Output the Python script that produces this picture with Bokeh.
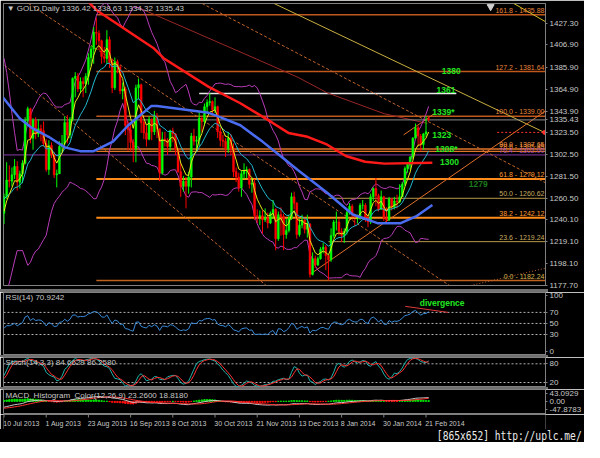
import numpy as np
import pandas as pd
from bokeh.plotting import figure
from bokeh.layouts import column
from bokeh.models import (Range1d, FixedTicker, NumeralTickFormatter, CustomJSTickFormatter,
                          Label, Div, ColumnDataSource)
from bokeh.core.properties import value
from bokeh.embed import file_html
from bokeh.resources import INLINE

FONT = "Liberation Sans"

# ---------------- data ----------------
# 20 daily bars before the visible window (needed to start the indicators)
pre_high = [1393, 1398, 1392, 1390, 1385, 1375, 1350, 1300, 1298, 1286, 1277, 1234, 1239, 1261, 1267, 1262, 1258, 1261, 1240, 1250]
pre_low = [1370, 1372, 1375, 1376, 1363, 1346, 1276, 1269, 1274, 1268, 1222, 1196, 1180, 1223, 1235, 1237, 1244, 1207, 1207, 1232]
pre_close = [1390, 1376, 1387, 1383, 1367, 1348, 1277, 1297, 1278, 1276, 1229, 1210, 1234, 1254, 1243, 1251, 1251, 1223, 1235, 1246]

# visible bars: 10 Jul 2013 .. 24 Feb 2014
opens = [1246, 1262, 1278, 1277, 1283, 1291, 1276, 1284, 1294, 1335, 1346, 1318, 1335, 1322, 1327, 1325,
         1313, 1288, 1311, 1302, 1283, 1284, 1310, 1313, 1333, 1321, 1336, 1375, 1377, 1365, 1372, 1370,
         1377, 1395, 1403, 1419, 1418, 1411, 1396, 1394, 1412, 1390, 1366, 1391, 1386, 1363, 1365, 1330,
         1326, 1314, 1308, 1366, 1369, 1333, 1323, 1317, 1336, 1324, 1338, 1327, 1285, 1317, 1316, 1310,
         1325, 1322, 1307, 1286, 1272, 1277, 1272, 1281, 1320, 1315, 1316, 1337, 1334, 1348, 1352, 1353,
         1345, 1348, 1324, 1316, 1315, 1308, 1318, 1308, 1286, 1281, 1271, 1284, 1287, 1288, 1274, 1275,
         1244, 1243, 1244, 1240, 1242, 1237, 1246, 1250, 1222, 1245, 1243, 1226, 1230, 1242, 1262, 1256,
         1226, 1235, 1240, 1231, 1236, 1188, 1203, 1197, 1203, 1212, 1214, 1206, 1202, 1225, 1238, 1238,
         1229, 1225, 1229, 1247, 1253, 1245, 1241, 1242, 1254, 1254, 1242, 1238, 1262, 1270, 1263, 1250,
         1262, 1242, 1240, 1260, 1252, 1258, 1257, 1262, 1274, 1289, 1293, 1300, 1318, 1328, 1320, 1312,
         1322, 1336.42]
highs = [1265, 1295, 1292, 1290, 1298, 1296, 1287, 1297, 1338, 1348, 1347, 1337, 1338, 1336, 1331, 1334,
         1317, 1316, 1314, 1305, 1288, 1315, 1321, 1339, 1340, 1338, 1376, 1381, 1380, 1376, 1376, 1380,
         1399, 1406, 1424, 1433, 1421, 1412, 1405, 1421, 1415, 1394, 1395, 1393, 1388, 1371, 1367, 1334,
         1333, 1317, 1369, 1375, 1370, 1335, 1330, 1339, 1337, 1344, 1342, 1327, 1324, 1324, 1318, 1326,
         1328, 1323, 1308, 1294, 1282, 1281, 1286, 1323, 1327, 1320, 1343, 1338, 1351, 1355, 1361, 1354,
         1357, 1349, 1328, 1321, 1318, 1324, 1322, 1313, 1290, 1285, 1287, 1294, 1291, 1289, 1280, 1279,
         1250, 1249, 1249, 1251, 1247, 1248, 1259, 1251, 1248, 1252, 1246, 1241, 1245, 1266, 1267, 1257,
         1241, 1245, 1242, 1245, 1237, 1209, 1206, 1205, 1214, 1218, 1216, 1206, 1232, 1240, 1248, 1241,
         1232, 1232, 1250, 1256, 1255, 1246, 1245, 1256, 1259, 1256, 1245, 1265, 1271, 1280, 1265, 1268,
         1263, 1252, 1262, 1261, 1262, 1264, 1274, 1276, 1291, 1295, 1301, 1319, 1332, 1330, 1322, 1323,
         1339, 1338.63]
lows = [1236, 1260, 1271, 1272, 1279, 1268, 1270, 1275, 1293, 1330, 1313, 1307, 1317, 1319, 1315, 1310,
        1286, 1283, 1299, 1280, 1271, 1284, 1305, 1311, 1313, 1318, 1334, 1357, 1362, 1361, 1357, 1361,
        1369, 1387, 1389, 1407, 1402, 1389, 1390, 1389, 1385, 1361, 1364, 1380, 1360, 1355, 1321, 1306,
        1305, 1295, 1295, 1355, 1323, 1317, 1310, 1316, 1316, 1321, 1318, 1277, 1283, 1310, 1302, 1306,
        1314, 1302, 1285, 1262, 1267, 1251, 1265, 1271, 1311, 1306, 1310, 1324, 1330, 1341, 1349, 1340,
        1342, 1318, 1310, 1309, 1300, 1304, 1302, 1281, 1276, 1267, 1262, 1279, 1280, 1270, 1266, 1240,
        1237, 1235, 1227, 1238, 1232, 1236, 1241, 1211, 1220, 1225, 1211, 1222, 1228, 1240, 1250, 1222,
        1224, 1232, 1227, 1223, 1185, 1187, 1194, 1196, 1202, 1208, 1192, 1182.24, 1200, 1223, 1230, 1225,
        1219, 1218, 1226, 1245, 1240, 1234, 1237, 1240, 1250, 1238, 1233, 1236, 1258, 1253, 1248, 1250,
        1239, 1238, 1239, 1249, 1250, 1251, 1256, 1262, 1272, 1285, 1288, 1298, 1318, 1310, 1306, 1307,
        1319, 1334.32]
closes = [1262, 1278, 1277, 1283, 1291, 1276, 1284, 1294, 1335, 1346, 1318, 1335, 1322, 1327, 1325, 1313,
          1288, 1311, 1302, 1283, 1284, 1310, 1313, 1333, 1321, 1336, 1375, 1377, 1365, 1372, 1370, 1377,
          1395, 1403, 1419, 1418, 1411, 1396, 1394, 1412, 1390, 1366, 1391, 1386, 1363, 1365, 1330, 1326,
          1314, 1308, 1366, 1369, 1333, 1323, 1317, 1336, 1324, 1338, 1327, 1285, 1317, 1316, 1310, 1325,
          1322, 1307, 1286, 1272, 1277, 1272, 1281, 1320, 1315, 1316, 1337, 1334, 1348, 1352, 1353, 1345,
          1348, 1324, 1316, 1315, 1308, 1318, 1308, 1286, 1281, 1271, 1284, 1287, 1288, 1274, 1275, 1244,
          1243, 1244, 1240, 1242, 1237, 1246, 1250, 1222, 1245, 1243, 1226, 1230, 1242, 1262, 1256, 1226,
          1235, 1240, 1231, 1236, 1188, 1203, 1197, 1203, 1212, 1214, 1206, 1202, 1225, 1238, 1238, 1229,
          1225, 1229, 1247, 1253, 1245, 1241, 1242, 1254, 1254, 1242, 1238, 1262, 1270, 1263, 1250, 1262,
          1242, 1240, 1260, 1252, 1258, 1257, 1262, 1274, 1289, 1293, 1300, 1318, 1328, 1320, 1312, 1322,
          1324, 1335.43]

date_ticks = [0, 16, 32, 48, 64, 80, 96, 112, 128, 144, 160]
date_labels = ["10 Jul 2013", "1 Aug 2013", "23 Aug 2013", "16 Sep 2013", "8 Oct 2013", "30 Oct 2013",
               "21 Nov 2013", "13 Dec 2013", "8 Jan 2014", "30 Jan 2014", "21 Feb 2014"]
bid = 1335.43
price_ticks = [1427.30, 1406.90, 1385.90, 1364.90, 1343.90, bid, 1323.50, 1302.50, 1281.50, 1260.50,
               1240.10, 1219.10, 1198.10, 1177.70]

# moving averages (bar index, price)
sma200_x = [31.5, 35.1, 56.9, 60.5, 77.6, 89.6, 101.6, 107.8, 115.1, 122.4, 129.6, 136.9, 144.2, 162.4]
sma200_y = [1449.3, 1440.1, 1403.5, 1394.3, 1366.9, 1351.3, 1333.0, 1323.0, 1319.3, 1312.0, 1301.0, 1295.5, 1293.7, 1294.6]
sma50_x = [-1.3, 6.0, 10.7, 16.9, 23.1, 28.9, 34.0, 41.3, 47.1, 55.8, 58.0, 77.6, 82.4, 89.6, 98.0,
           105.3, 111.5, 122.4, 132.2, 141.6, 150.4, 156.2, 162.4]
sma50_y = [1359.6, 1336.7, 1327.5, 1319.3, 1309.2, 1305.6, 1305.6, 1314.7, 1330.3, 1348.6, 1348.6, 1342.2,
           1337.6, 1330.3, 1314.7, 1300.1, 1287.3, 1266.2, 1245.1, 1236.9, 1236.9, 1243.3, 1254.3]
thin_red_x = [50.7, 95.8, 111.5, 122.4, 144.2, 160.5]
thin_red_y = [1442.9, 1393.4, 1376.0, 1361.4, 1341.3, 1332.1]

# fibonacci retracement (0.0 = 1182.24, 100.0 = 1339.00)
fib_names = ["161.8", "127.2", "100.0", "80.0", "78.6", "76.4", "61.8", "50.0", "38.2", "23.6", "0.0"]
fib_prices = [1435.88, 1381.64, 1339.00, 1307.65, 1305.45, 1302.00, 1279.12, 1260.62, 1242.12, 1219.24, 1182.24]
fib_colors = ["#e8843a", "#e8843a", "#e8843a", "#f09040", "#f09040", "#9a48b8", "#ff9a30", "#c8ac60",
              "#ff9a30", "#c8ac60", "#d8b850"]

# hand-drawn horizontal levels (start bar, colour, width)
hline_start = [35, 35, 35, 35, 35, -1, 35, 123, 35, 123, 35]
hline_colors = ["#c0581e", "#c0581e", "#c0581e", "#e07428", "#e07428", "#8a3aa8", "#ff8c1a", "#b89848",
                "#ff8c1a", "#b89848", "#c0601e"]
hline_widths = [1.5, 1.5, 1.5, 1.5, 1.2, 1, 2, 1, 2, 1, 1.5]

level_text = ["1380", "1361", "1339*", "1323", "1308*", "1300", "1279"]
level_x = [166.0, 164.0, 162.4, 162.4, 163.5, 165.3, 176.2]
level_y = [1382.5, 1364.1, 1343.1, 1321.1, 1307.4, 1295.5, 1274.4]
level_col = ["#22e622", "#22e622", "#22e622", "#22e622", "#22e622", "#22e622", "#1c7a1c"]

# trend lines (bar index / price end points)
trend_x0 = [-1.27, 9.3, 75.1, 102.4, 193.3, 116.2, 151.5, 176.9]
trend_y0 = [1390.7, 1446.5, 1446.5, 1446.5, 1446.5, 1188.4, 1321.1, 1177.4]
trend_x1 = [102.4, 168.9, 205.3, 205.3, 205.3, 205.3, 163.1, 205.3]
trend_y1 = [1171.0, 1177.4, 1275.4, 1323.0, 1429.1, 1344.0, 1341.3, 1193.9]
trend_col = ["#c0642c", "#c0642c", "#c0642c", "#c8b040", "#d8c020", "#e0702a", "#e0702a", "#c0642c"]
trend_dash = ["3 2", "3 2", "3 2", "solid", "solid", "solid", "solid", "1 2"]

white_level = 1360.5

# ---------------- indicators ----------------
n0 = len(pre_close)
C = pd.Series(pre_close + closes, dtype=float)
H = pd.Series(pre_high + highs, dtype=float)
L = pd.Series(pre_low + lows, dtype=float)
ema5 = C.ewm(span=5, adjust=False).mean()
ema13 = C.ewm(span=13, adjust=False).mean()
bb_mid = C.rolling(20, min_periods=1).mean()
bb_sd = C.rolling(20, min_periods=1).std(ddof=0)
bb_up = bb_mid + 2 * bb_sd
bb_lo = bb_mid - 2 * bb_sd
dC = C.diff().fillna(0)
au = dC.clip(lower=0).ewm(alpha=1 / 14, adjust=False).mean()
ad = (-dC).clip(lower=0).ewm(alpha=1 / 14, adjust=False).mean()
rsi = 100 - 100 / (1 + au / ad)
hh = H.rolling(14, min_periods=1).max()
ll = L.rolling(14, min_periods=1).min()
stk = (C - ll).rolling(3, min_periods=1).sum() / (hh - ll).rolling(3, min_periods=1).sum() * 100
std_ = stk.rolling(3, min_periods=1).mean()
macd = C.ewm(span=12, adjust=False).mean() - C.ewm(span=26, adjust=False).mean()
sig = macd.rolling(9, min_periods=1).mean()
hist = macd - sig

sl = slice(n0, None)
idx = np.arange(len(closes))
o = np.array(opens, dtype=float)
c = np.array(closes, dtype=float)
cols = np.where(c >= o, "#00ff00", "#ff0000")

W = 584
RB = 37
XR = Range1d(-0.2, 205.3)
AX = "#808080"
TXT = "#c8c8c8"


def base(height, yr, bt=0, bb=0, yaxis=True):
    p = figure(width=W, height=height, x_range=XR, y_range=yr, output_backend="svg",
               toolbar_location=None, tools="", x_axis_location=None,
               y_axis_location="right" if yaxis else None, background_fill_color="black",
               border_fill_color="black", outline_line_color=AX if yaxis else None,
               min_border_left=3, min_border_right=RB, min_border_top=bt, min_border_bottom=bb)
    p.grid.visible = False
    for ax in p.yaxis:
        ax.axis_line_color = AX
        ax.major_tick_line_color = AX
        ax.minor_tick_line_color = None
        ax.major_tick_out = 2
        ax.major_tick_in = 0
        ax.major_label_standoff = 2
        ax.major_label_text_color = TXT
        ax.major_label_text_font = FONT
        ax.major_label_text_font_size = "8px"
    return p


def txt(p, x, y, s, color=TXT, size="8px", style="normal"):
    p.add_layout(Label(x=x, y=y, text=s, text_color=color, text_font=FONT, text_font_size=size,
                       text_align="left", text_baseline="middle", text_font_style=style))


# ---------------- main chart ----------------
main = base(289, Range1d(1177.4, 1446.5), bt=3, bb=4)
main.yaxis.ticker = FixedTicker(ticks=price_ticks)
main.yaxis.formatter = NumeralTickFormatter(format="0.00")

hsrc = ColumnDataSource(dict(x0=hline_start, x1=[205.3] * len(fib_prices), y=fib_prices,
                             c=hline_colors, w=hline_widths))
main.segment(x0="x0", y0="y", x1="x1", y1="y", source=hsrc, line_color="c", line_width="w")
main.segment(x0=[74], y0=[white_level], x1=[171.5], y1=[white_level], line_color="#e8e8e8", line_width=1.5)
for i in range(len(trend_x0)):
    main.line([trend_x0[i], trend_x1[i]], [trend_y0[i], trend_y1[i]], line_color=trend_col[i],
              line_width=1, line_dash=trend_dash[i])
main.line(thin_red_x, thin_red_y, line_color="#992626", line_width=1)
main.line([-0.2, 205.3], [bid, bid], line_color="#8c8c8c", line_width=1)
main.line([187, 205.3], [1323.5, 1323.5], line_color="#ff3030", line_width=1, line_dash="2 2")
main.scatter([205.0], [1323.5], size=4, color="#ff3030")
main.scatter([184.5], [1443.5], marker="inverted_triangle", size=7, color="#d0d0d0")

# bollinger bands and fast averages
main.line(idx, bb_up[sl].values, line_color="#b83cb8", line_width=1)
main.line(idx, bb_lo[sl].values, line_color="#b83cb8", line_width=1)

csrc = ColumnDataSource(dict(x=idx, h=highs, l=lows, top=np.maximum(o, c), bot=np.minimum(o, c), col=cols))
main.segment(x0="x", y0="l", x1="x", y1="h", source=csrc, line_color="col", line_width=1)
main.vbar(x="x", width=0.7, top="top", bottom="bot", source=csrc, fill_color="col",
          line_color="col", line_width=0.5)

main.line(idx, ema13[sl].values, line_color="#22b8d0", line_width=1)
main.line(idx, ema5[sl].values, line_color="#e6e61a", line_width=1)
main.line(sma50_x, sma50_y, line_color="#4a6cf0", line_width=2.5)
main.line(sma200_x, sma200_y, line_color="#ff1a1a", line_width=2.5)

fsrc = ColumnDataSource(dict(x=[204.9] * len(fib_prices), y=[v + 0.8 for v in fib_prices],
                             t=[f"{n} - {v:.2f}" for n, v in zip(fib_names, fib_prices)], c=fib_colors))
main.text(x="x", y="y", text="t", source=fsrc, text_color="c", text_font=value(FONT),
          text_font_size="7px", text_align="right", text_baseline="bottom")
lsrc = ColumnDataSource(dict(x=level_x, y=level_y, t=level_text, c=level_col))
main.text(x="x", y="y", text="t", source=lsrc, text_color="c", text_font=value(FONT),
          text_font_size="8.5px", text_font_style="bold", text_baseline="middle")

txt(main, 1.0, 1441.5, "\u25BC GOLD,Daily  1336.42 1338.63 1334.32 1335.43")

# ---------------- RSI ----------------
rsi_p = base(63, Range1d(-8, 106))
rsi_p.yaxis.ticker = FixedTicker(ticks=[100, 70, 50, 30, 0])
for lv in [70, 50, 30]:
    rsi_p.line([-0.2, 205.3], [lv, lv], line_color="#b0b0b0", line_width=1, line_dash="2 2")
rsi_p.line(idx, rsi[sl].values, line_color="#3a8ad8", line_width=1)
rsi_p.line([152.1, 168.4], [81, 70], line_color="#e03a3a", line_width=1)
txt(rsi_p, 0.6, 97, "RSI(14) 70.9242")
txt(rsi_p, 157.6, 86.8, "divergence", color="#22e622", size="8.5px", style="bold")

# ---------------- Stochastic ----------------
sto = base(30, Range1d(4, 100.2))
sto.yaxis.ticker = FixedTicker(ticks=[80, 20])
for lv in [80, 20]:
    sto.line([-0.2, 205.3], [lv, lv], line_color="#b0b0b0", line_width=1, line_dash="2 2")
sto.line(idx, stk[sl].values, line_color="#20b2aa", line_width=1)
sto.line(idx, std_[sl].values, line_color="#ff3030", line_width=1)
txt(sto, 0.6, 83.2, "Stoch(14,3,3) 84.6629 86.2580")

# ---------------- MACD ----------------
mac = base(25, Range1d(-75, 68))
mac.yaxis.ticker = FixedTicker(ticks=[43.0929, 0, -47.8783])
mac.yaxis.formatter = CustomJSTickFormatter(code="return tick == 0 ? '0.00' : tick.toFixed(4);")
hv = hist[sl].values
hcol = np.where(hv >= 0, "#00e000", "#ff1010")
mac.vbar(x=idx, width=0.55, top=hv, bottom=0, fill_color=hcol, line_color=hcol)
mac.line(idx, macd[sl].values, line_color="#c8c8c8", line_width=1)
mac.line(idx, sig[sl].values, line_color="#ff3030", line_width=1)
txt(mac, 0.6, 36, "MACD_Histogram_Color(12,26,9) 23.2600 18.8180")

# ---------------- date row ----------------
dates = base(15, Range1d(0, 1), yaxis=False)
dates.segment(x0=date_ticks, y0=[1.0] * len(date_ticks), x1=date_ticks, y1=[0.8] * len(date_ticks),
              line_color=AX, line_width=1)
dates.text(x=[t - 0.3 for t in date_ticks], y=[0.42] * len(date_ticks), text=date_labels,
           text_color=TXT, text_font=value(FONT), text_font_size="7px", text_align="left",
           text_baseline="middle")


def sep(h):
    return Div(text="", width=W, height=h, margin=0,
               styles={"background": "linear-gradient(to right, #707070 0px, #707070 548px, #000 548px)"})


stamp = Div(text="<span style='display:inline-block;transform:scaleX(0.74);transform-origin:right center;'>"
                 "[865x652] http://uplc.me/</span>",
            width=W, height=13, margin=0,
            styles={"background-color": "black", "color": "#ececec", "text-align": "right",
                    "font-family": "DejaVu Sans Mono, monospace", "font-size": "13px",
                    "line-height": "13px", "overflow": "hidden", "padding-right": "2px"})

layout = column(main, sep(3), rsi_p, sep(2), sto, sep(2), mac, dates, stamp, spacing=0)
open("out.html", "w").write(file_html(layout, INLINE))
